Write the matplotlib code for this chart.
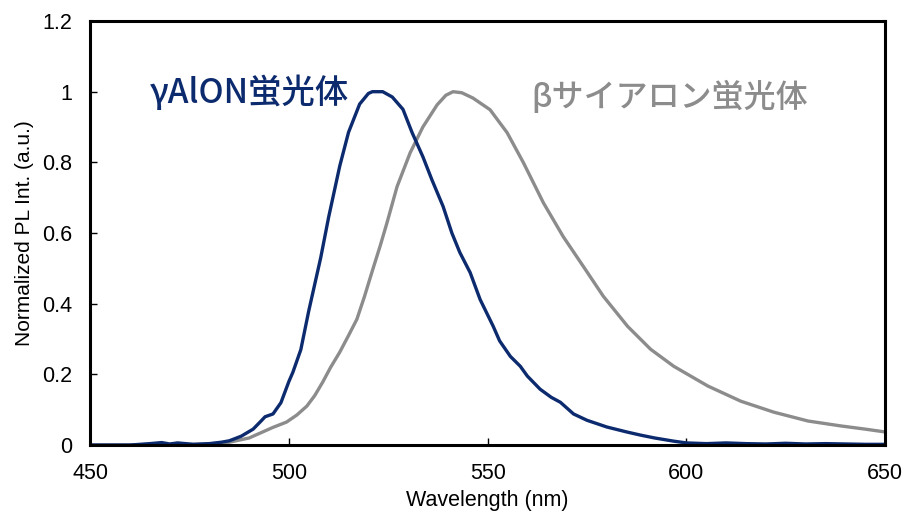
import numpy as np
import matplotlib.pyplot as plt

# gamma-AlON phosphor spectrum
wl_alon = [450, 460, 465, 468, 470, 472, 476, 480, 483, 485, 488, 491, 493, 494,
           496, 498, 500, 501, 503, 505, 508, 510, 512.8, 515, 517.8, 520, 521,
           523.6, 526, 528.7, 531, 533.7, 536, 538.8, 541, 543, 545.6, 548.1,
           551.4, 553, 555.7, 558.2, 560, 563.2, 566, 568.3, 571.6, 575, 580,
           585, 588.5, 592, 596.8, 600, 605, 610, 615, 620, 625, 630, 635, 640,
           645, 650]
pl_alon = [0, 0, 0.004, 0.007, 0.003, 0.006, 0.002, 0.004, 0.008, 0.012, 0.025,
           0.045, 0.068, 0.08, 0.088, 0.12, 0.18, 0.206, 0.27, 0.38, 0.53,
           0.645, 0.79, 0.885, 0.965, 0.995, 1.0, 1.0, 0.985, 0.95, 0.884, 0.816,
           0.75, 0.675, 0.6, 0.545, 0.488, 0.412, 0.336, 0.295, 0.251, 0.223,
           0.195, 0.158, 0.135, 0.121, 0.088, 0.07, 0.051, 0.037, 0.028, 0.02,
           0.011, 0.006, 0.004, 0.006, 0.004, 0.003, 0.005, 0.003, 0.004,
           0.003, 0.002, 0.002]

# beta-SiAlON phosphor spectrum
wl_sialon = [450, 470, 480, 485, 490, 493.4, 496, 499.4, 502, 504.5, 506.5,
             508.5, 510.5, 512.8, 515, 517.1, 519, 521.1, 523, 524.7, 527.2,
             530.5, 533.7, 537.3, 539.5, 541.3, 543.5, 546.3, 550.6, 554.9,
             559, 564, 569, 574.1, 579.1, 585.2, 591, 596.8, 605.4, 613.7, 622,
             630.6, 638.9, 645, 650]
pl_sialon = [0, 0, 0.003, 0.008, 0.02, 0.037, 0.05, 0.065, 0.085, 0.11, 0.14,
             0.178, 0.22, 0.263, 0.31, 0.356, 0.42, 0.497, 0.565, 0.63, 0.731,
             0.827, 0.9, 0.963, 0.99, 1.0, 0.997, 0.982, 0.949, 0.884, 0.799,
             0.686, 0.59, 0.505, 0.421, 0.336, 0.271, 0.223, 0.167, 0.124,
             0.093, 0.068, 0.054, 0.045, 0.037]

navy = '#0c2a6e'
grey = '#8c8c8c'

plt.rcParams['font.family'] = ['Liberation Sans', 'DejaVu Sans']

fig = plt.figure(figsize=(9.06, 5.19), dpi=100)
ax = fig.add_axes([0.0995, 0.1425, 0.8775, 0.817])

ax.plot(wl_sialon, pl_sialon, color=grey, lw=2.4)
ax.plot(wl_alon, pl_alon, color=navy, lw=2.4)

ax.set_xlim(450, 650)
ax.set_ylim(0, 1.2)
ax.set_xticks(np.arange(450, 651, 50))
ax.set_yticks(np.arange(0, 1.21, 0.2))
ax.set_yticklabels(['0', '0.2', '0.4', '0.6', '0.8', '1', '1.2'])
ax.tick_params(direction='in', length=5, width=1, labelsize=15.5)
ax.tick_params(axis='y', pad=13)
ax.tick_params(axis='x', pad=13)
for s in ax.spines.values():
    s.set_linewidth(2.2)

ax.set_xlabel('Wavelength (nm)', fontsize=15.5, labelpad=4)
ax.set_ylabel('Normalized PL Int. (a.u.)', fontsize=15, labelpad=6)

cjk = ['Noto Sans CJK JP', 'DejaVu Sans']
ax.text(465, 0.995, 'γAlON蛍光体', color=navy, fontsize=24, family=cjk,
        va='center', ha='left', weight='medium')
ax.text(561, 0.985, 'βサイアロン蛍光体', color=grey, fontsize=23, family=cjk,
        va='center', ha='left', weight='medium')

fig.savefig('out.png', dpi=100)
